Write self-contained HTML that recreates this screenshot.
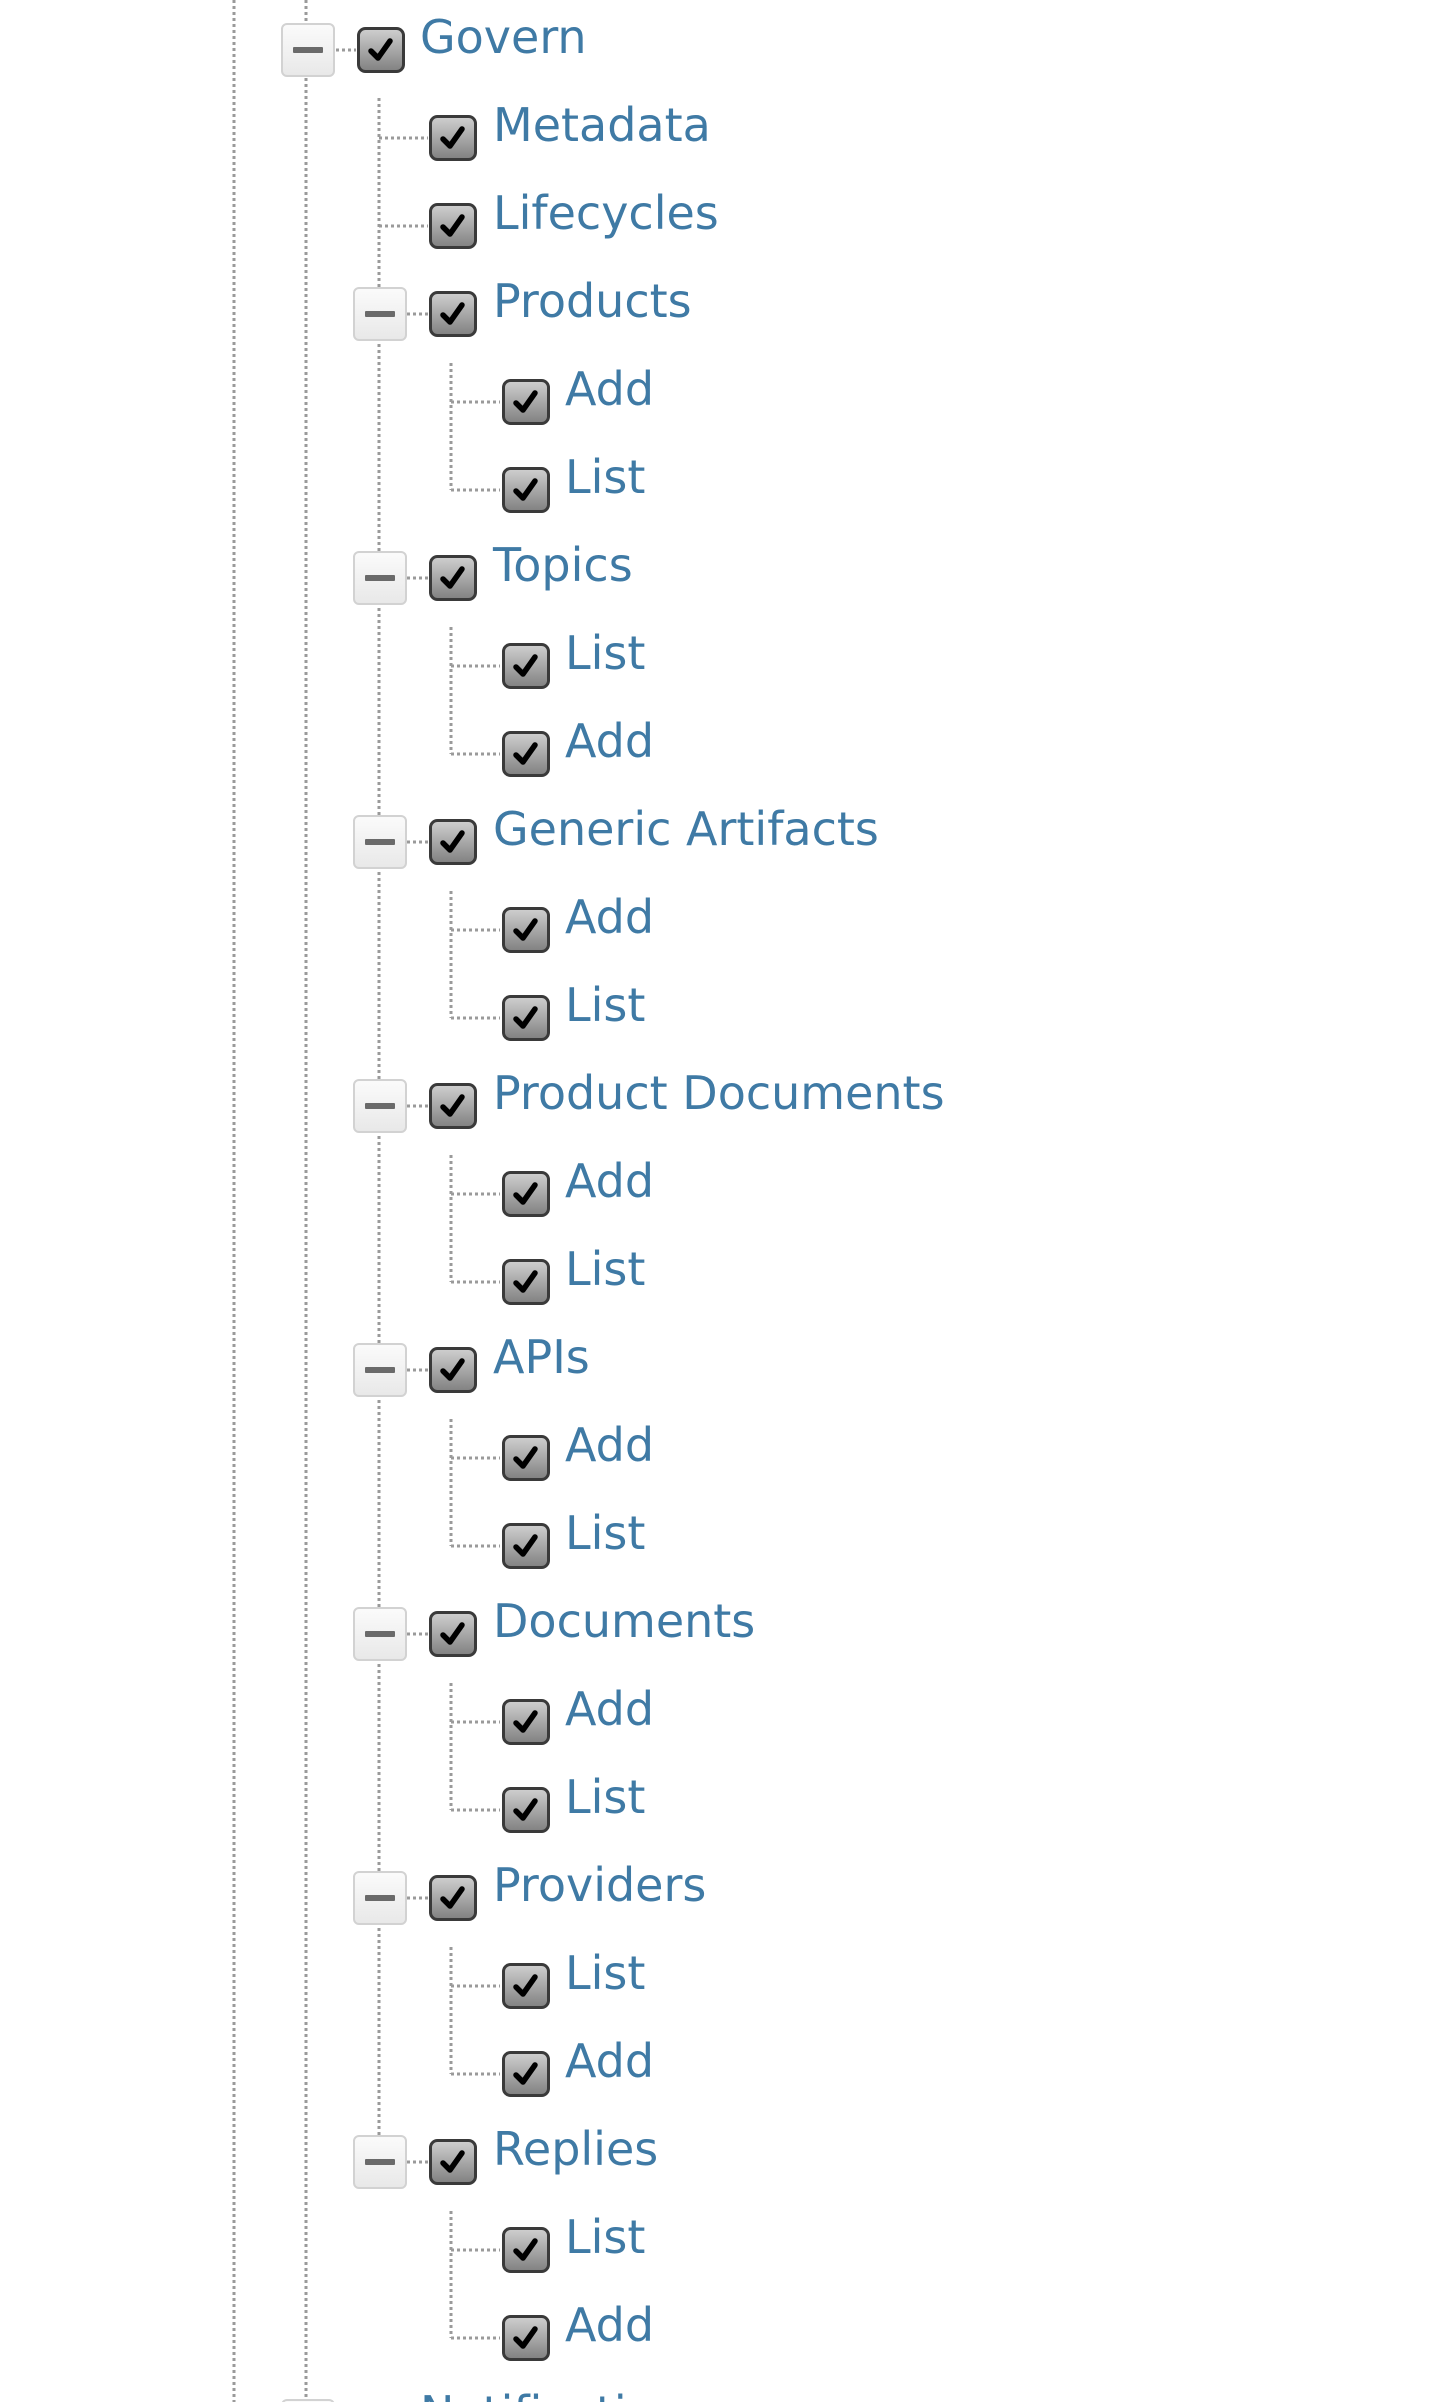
<!DOCTYPE html>
<html><head><meta charset="utf-8"><style>html,body{margin:0;padding:0;background:#fff;width:1452px;height:2402px;overflow:hidden}</style></head>
<body>
<svg width="1452" height="2402" viewBox="0 0 1452 2402" xmlns="http://www.w3.org/2000/svg">
<defs>
<linearGradient id="gb" x1="0" y1="0" x2="0" y2="1"><stop offset="0" stop-color="#d0d0d0"/><stop offset="1" stop-color="#808080"/></linearGradient>
<linearGradient id="gt" x1="0" y1="0" x2="0" y2="1"><stop offset="0" stop-color="#fbfbfb"/><stop offset="1" stop-color="#e8e8e8"/></linearGradient>
<g id="cb"><rect x="1.5" y="1.5" width="45" height="43" rx="7" fill="url(#gb)" stroke="#3a3a3a" stroke-width="3"/><path d="M14 24 L21 31 L33 14" fill="none" stroke="#000" stroke-width="5.5" stroke-linecap="round" stroke-linejoin="round"/></g>
<g id="tg"><rect x="1" y="1" width="52" height="52" rx="5" fill="url(#gt)" stroke="#d2d2d2" stroke-width="2"/><rect x="12" y="24" width="30" height="6" rx="1" fill="#6a6a6a"/></g>
</defs>
<g stroke="#9a9a9a" stroke-width="3" stroke-dasharray="3 3" fill="none">
<line x1="234" y1="0" x2="234" y2="2402"/>
<line x1="306" y1="0" x2="306" y2="2402"/>
<line x1="379" y1="98" x2="379" y2="2135"/>
<line x1="336" y1="50" x2="356" y2="50"/>
<line x1="379" y1="138" x2="428" y2="138"/>
<line x1="379" y1="226" x2="428" y2="226"/>
<line x1="451" y1="363" x2="451" y2="490"/><line x1="451" y1="402" x2="500" y2="402"/><line x1="451" y1="490" x2="500" y2="490"/><line x1="407" y1="314" x2="428" y2="314"/>
<line x1="451" y1="627" x2="451" y2="754"/><line x1="451" y1="666" x2="500" y2="666"/><line x1="451" y1="754" x2="500" y2="754"/><line x1="407" y1="578" x2="428" y2="578"/>
<line x1="451" y1="891" x2="451" y2="1018"/><line x1="451" y1="930" x2="500" y2="930"/><line x1="451" y1="1018" x2="500" y2="1018"/><line x1="407" y1="842" x2="428" y2="842"/>
<line x1="451" y1="1155" x2="451" y2="1282"/><line x1="451" y1="1194" x2="500" y2="1194"/><line x1="451" y1="1282" x2="500" y2="1282"/><line x1="407" y1="1106" x2="428" y2="1106"/>
<line x1="451" y1="1419" x2="451" y2="1546"/><line x1="451" y1="1458" x2="500" y2="1458"/><line x1="451" y1="1546" x2="500" y2="1546"/><line x1="407" y1="1370" x2="428" y2="1370"/>
<line x1="451" y1="1683" x2="451" y2="1810"/><line x1="451" y1="1722" x2="500" y2="1722"/><line x1="451" y1="1810" x2="500" y2="1810"/><line x1="407" y1="1634" x2="428" y2="1634"/>
<line x1="451" y1="1947" x2="451" y2="2074"/><line x1="451" y1="1986" x2="500" y2="1986"/><line x1="451" y1="2074" x2="500" y2="2074"/><line x1="407" y1="1898" x2="428" y2="1898"/>
<line x1="451" y1="2211" x2="451" y2="2338"/><line x1="451" y1="2250" x2="500" y2="2250"/><line x1="451" y1="2338" x2="500" y2="2338"/><line x1="407" y1="2162" x2="428" y2="2162"/>
</g>
<use href="#tg" x="281" y="23"/>
<use href="#tg" x="353" y="287"/>
<use href="#tg" x="353" y="551"/>
<use href="#tg" x="353" y="815"/>
<use href="#tg" x="353" y="1079"/>
<use href="#tg" x="353" y="1343"/>
<use href="#tg" x="353" y="1607"/>
<use href="#tg" x="353" y="1871"/>
<use href="#tg" x="353" y="2135"/>
<use href="#tg" x="281" y="2399"/>
<use href="#cb" x="357" y="27"/>
<use href="#cb" x="429" y="115"/><use href="#cb" x="429" y="203"/><use href="#cb" x="429" y="291"/>
<use href="#cb" x="502" y="379"/><use href="#cb" x="502" y="467"/>
<use href="#cb" x="429" y="555"/><use href="#cb" x="502" y="643"/><use href="#cb" x="502" y="731"/>
<use href="#cb" x="429" y="819"/><use href="#cb" x="502" y="907"/><use href="#cb" x="502" y="995"/>
<use href="#cb" x="429" y="1083"/><use href="#cb" x="502" y="1171"/><use href="#cb" x="502" y="1259"/>
<use href="#cb" x="429" y="1347"/><use href="#cb" x="502" y="1435"/><use href="#cb" x="502" y="1523"/>
<use href="#cb" x="429" y="1611"/><use href="#cb" x="502" y="1699"/><use href="#cb" x="502" y="1787"/>
<use href="#cb" x="429" y="1875"/><use href="#cb" x="502" y="1963"/><use href="#cb" x="502" y="2051"/>
<use href="#cb" x="429" y="2139"/><use href="#cb" x="502" y="2227"/><use href="#cb" x="502" y="2315"/>
<use href="#cb" x="357" y="2403"/>
<g font-family="'DejaVu Sans', 'Liberation Sans', sans-serif" font-size="46" fill="#3f7aa5">
<text x="420" y="53">Govern</text>
<text x="493" y="141">Metadata</text>
<text x="493" y="229">Lifecycles</text>
<text x="493" y="317">Products</text>
<text x="565" y="405">Add</text>
<text x="565" y="493">List</text>
<text x="493" y="581">Topics</text>
<text x="565" y="669">List</text>
<text x="565" y="757">Add</text>
<text x="493" y="845">Generic Artifacts</text>
<text x="565" y="933">Add</text>
<text x="565" y="1021">List</text>
<text x="493" y="1109">Product Documents</text>
<text x="565" y="1197">Add</text>
<text x="565" y="1285">List</text>
<text x="493" y="1373">APIs</text>
<text x="565" y="1461">Add</text>
<text x="565" y="1549">List</text>
<text x="493" y="1637">Documents</text>
<text x="565" y="1725">Add</text>
<text x="565" y="1813">List</text>
<text x="493" y="1901">Providers</text>
<text x="565" y="1989">List</text>
<text x="565" y="2077">Add</text>
<text x="493" y="2165">Replies</text>
<text x="565" y="2253">List</text>
<text x="565" y="2341">Add</text>
<text x="420" y="2429">Notifications</text>
</g>
</svg>
</body></html>
